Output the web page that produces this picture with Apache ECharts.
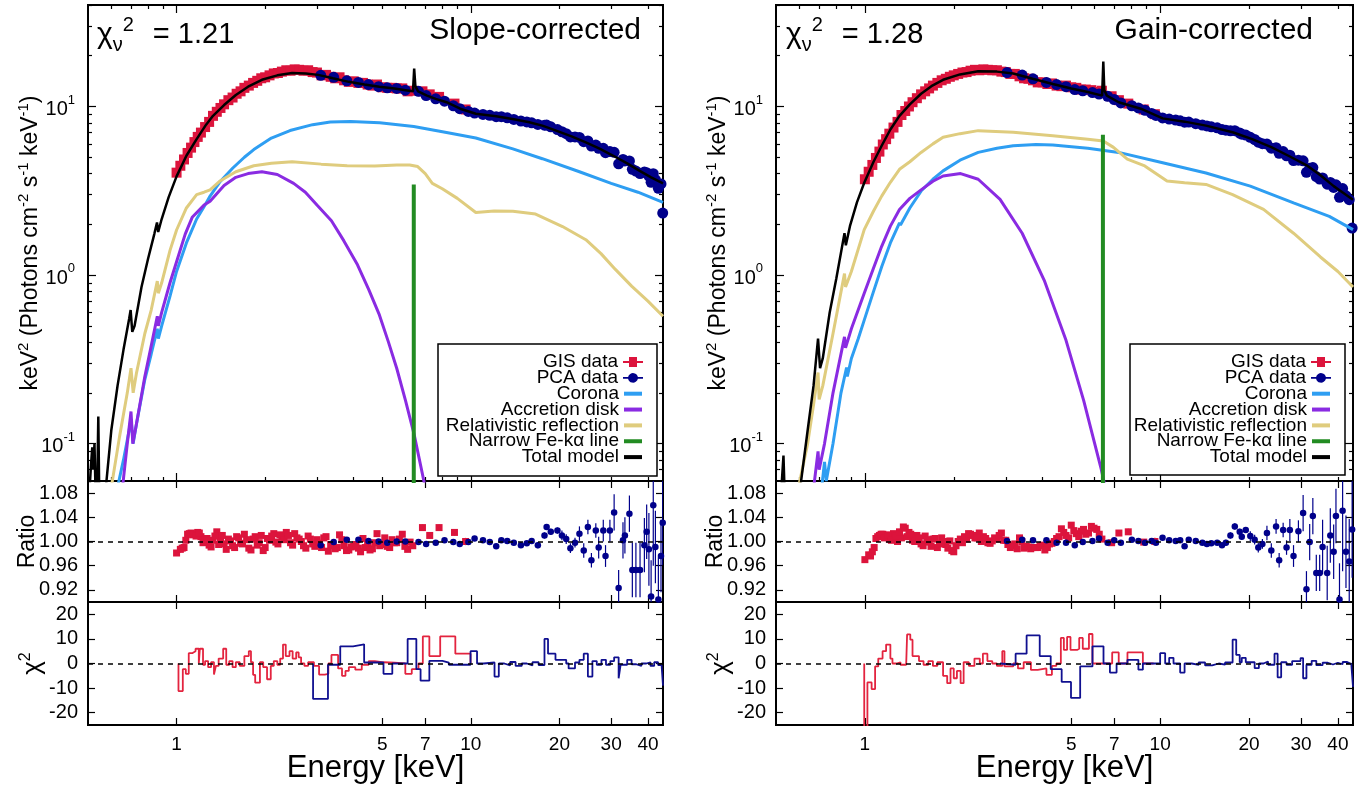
<!DOCTYPE html>
<html><head><meta charset="utf-8">
<script src="https://cdn.jsdelivr.net/npm/echarts@6/dist/echarts.min.js"></script>
<style>html,body{margin:0;padding:0;background:#fff}#c{width:1364px;height:788px}</style>
</head><body><div id="c"></div>
<script>
// ---------------- tick / label values ----------------
const xMajorMain = [1, 10];
const xMinorMain = [0.6, 0.7, 0.8, 0.9, 2, 3, 4, 5, 6, 7, 8, 9, 20, 30, 40];
const xTicksRes = [1, 5, 7, 10, 20, 30, 40];
const xLabels = [1, 5, 7, 10, 20, 30, 40];
const yMajorMain = [0.1, 1, 10];
const yMinorMain = [0.07, 0.08, 0.09, 0.2, 0.3, 0.4, 0.5, 0.6, 0.7, 0.8, 0.9, 2, 3, 4, 5, 6, 7, 8, 9, 20, 30, 40];
const ratioTicks = [0.92, 0.96, 1.00, 1.04, 1.08];
const chiTicks = [-20, -10, 0, 10, 20];
const legendNames = ['GIS data', 'PCA data', 'Corona', 'Accretion disk', 'Relativistic reflection', 'Narrow Fe-kα line', 'Total model'];

// ---------------- model curves: left (slope-corrected) ----------------
const totalL = [[0.505,0.05],[0.512,0.075],[0.517,0.095],[0.521,0.07],[0.526,0.1],[0.53,0.055],[0.537,0.05],[0.542,0.145],[0.546,0.05],[0.55,0.04],
 [0.575,0.055],[0.60,0.12],[0.63,0.22],[0.66,0.36],[0.69,0.55],[0.698,0.62],[0.707,0.46],[0.72,0.5],[0.76,0.85],[0.80,1.25],[0.84,1.75],[0.858,2.05],[0.866,1.8],[0.89,2.15],[0.94,2.9],
 [1.0,3.85],[1.08,5.1],[1.17,6.4],[1.26,7.8],[1.33,8.8],[1.345,8.75],[1.45,10.2],[1.59,11.7],[1.75,13.1],[1.95,14.4],[2.2,15.3],[2.47,15.8],[2.75,15.7],[3.03,15.4],[3.4,14.7],
 [3.85,14.0],[4.35,13.5],[4.89,13.1],[5.5,12.8],[6.0,12.5],[6.36,12.3],[6.42,16.8],[6.48,13.2],[6.62,12.3],[7.1,11.6],[7.6,11.1],[8.27,10.6],[9.2,9.7],[10.4,9.05],[12.2,8.76],
 [14,8.4],[15.8,8.07],[17.5,7.7],[19.5,7.19],[22,6.65],[24.6,6.13],[27.5,5.6],[30.5,5.1],[34,4.6],[37.5,4.15],[41,3.8],[45,3.5]];
const coronaL = [[0.63,0.055],[0.66,0.08],[0.69,0.12],[0.70,0.14],[0.712,0.1],[0.73,0.13],[0.78,0.24],[0.82,0.34],[0.86,0.48],[0.867,0.42],[0.89,0.5],[0.95,0.75],[1.0,1.05],
 [1.08,1.55],[1.17,2.15],[1.25,2.6],[1.30,2.94],[1.40,3.55],[1.55,4.3],[1.70,5.0],[1.83,5.55],[1.85,5.6],[2.1,6.5],[2.43,7.2],[2.9,7.8],[3.33,8.1],[3.9,8.15],[4.9,8.0],
 [6.4,7.6],[8.27,7.0],[10.4,6.5],[13.9,5.6],[17.5,4.9],[23.4,4.1],[30,3.5],[37,3.1],[45,2.7]];
const diskL = [[0.655,0.055],[0.68,0.1],[0.70,0.155],[0.71,0.1],[0.73,0.13],[0.78,0.25],[0.82,0.38],[0.86,0.57],[0.867,0.5],[0.89,0.6],[0.95,0.9],[1.0,1.2],[1.07,1.75],[1.13,2.2],
 [1.24,2.6],[1.30,2.74],[1.31,2.8],[1.45,3.4],[1.59,3.8],[1.75,4.0],[1.95,4.1],[2.2,3.95],[2.5,3.5],[2.74,3.1],[3.0,2.6],[3.36,2.1],[3.7,1.6],[4.12,1.15],[4.5,0.82],[4.89,0.58],
 [5.25,0.4],[5.6,0.28],[6.0,0.18],[6.42,0.113],[7.0,0.055]];
const reflL = [[0.60,0.055],[0.64,0.11],[0.68,0.2],[0.70,0.28],[0.712,0.2],[0.73,0.26],[0.78,0.45],[0.82,0.62],[0.86,0.92],[0.867,0.78],[0.89,0.9],[0.95,1.4],[1.0,1.85],[1.08,2.5],
 [1.17,3.0],[1.24,3.1],[1.30,3.2],[1.40,3.6],[1.59,4.1],[1.83,4.45],[1.85,4.4],[2.1,4.6],[2.47,4.7],[3.1,4.55],[3.8,4.45],[4.72,4.44],[5.6,4.5],[6.2,4.5],[6.6,4.4],[7.0,4.0],
 [7.4,3.5],[8.0,3.25],[9.0,2.85],[10.4,2.35],[12.0,2.4],[13.9,2.39],[16.6,2.3],[20.5,1.94],[24.6,1.62],[27.7,1.34],[31,1.08],[35.2,0.86],[40,0.7],[45,0.57]];
const feL = [[6.4,0.01],[6.4,3.45]];

// ---------------- model curves: right (gain-corrected) ----------------
const totalR = [[0.52,0.05],[0.53,0.085],[0.535,0.05],[0.55,0.04],[0.60,0.05],[0.64,0.12],[0.67,0.22],[0.694,0.42],[0.705,0.28],[0.72,0.32],[0.76,0.6],[0.80,0.95],[0.853,1.77],
 [0.862,1.5],[0.89,1.95],[0.94,2.7],[0.995,3.53],[1.07,4.7],[1.14,5.85],[1.22,7.3],[1.31,8.8],[1.32,8.7],[1.42,10.3],[1.55,11.9],[1.68,13.2],[1.84,14.4],[2.1,15.5],[2.42,16.2],
 [2.8,16.1],[3.18,15.7],[3.7,14.6],[4.33,13.6],[5.0,12.8],[5.69,12.2],[6.36,11.6],[6.42,18.5],[6.47,12.5],[6.6,11.6],[7.24,10.6],[8.6,9.7],[10.2,8.5],[12.1,8.13],[14.3,7.7],
 [17.6,7.03],[20.5,6.4],[23.9,5.72],[27.5,5.05],[31.6,4.44],[35,3.9],[38.7,3.37],[42,3.05],[45,2.8]];
const coronaR = [[0.71,0.05],[0.73,0.078],[0.74,0.06],[0.78,0.1],[0.83,0.2],[0.867,0.283],[0.872,0.25],[0.90,0.32],[0.95,0.42],[0.995,0.54],[1.07,0.8],[1.14,1.12],[1.22,1.55],
 [1.31,2.04],[1.32,1.98],[1.42,2.5],[1.55,3.15],[1.7,3.7],[1.84,4.15],[2.1,4.8],[2.42,5.34],[2.8,5.65],[3.18,5.85],[3.8,5.95],[4.33,5.9],[5.69,5.66],[7.24,5.34],[10.2,4.64],
 [14.3,4.03],[20.2,3.37],[28.3,2.68],[37.4,2.23],[45,1.86]];
const diskR = [[0.671,0.055],[0.694,0.09],[0.70,0.07],[0.73,0.1],[0.78,0.2],[0.853,0.43],[0.86,0.37],[0.90,0.48],[0.995,0.78],[1.07,1.1],[1.14,1.48],[1.22,1.95],[1.31,2.45],
 [1.32,2.4],[1.42,2.85],[1.55,3.2],[1.7,3.6],[1.84,3.87],[2.11,4.0],[2.42,3.7],[2.87,2.81],[3.41,1.77],[4.05,0.93],[4.8,0.41],[5.51,0.18],[6.31,0.071],[6.6,0.05]];
const reflR = [[0.596,0.055],[0.64,0.1],[0.67,0.17],[0.694,0.264],[0.70,0.183],[0.72,0.22],[0.78,0.45],[0.853,1.02],[0.86,0.85],[0.90,1.05],[0.995,1.86],[1.07,2.4],[1.14,2.94],
 [1.22,3.55],[1.31,4.24],[1.32,4.15],[1.42,4.7],[1.55,5.34],[1.7,6.0],[1.84,6.57],[1.86,6.4],[2.1,6.9],[2.42,7.19],[3.18,7.03],[4.33,6.7],[5.69,6.4],[6.42,6.25],[6.95,5.72],
 [7.74,4.87],[8.87,4.44],[10.55,3.61],[12.1,3.53],[14.3,3.45],[17.6,3.0],[22.4,2.45],[28.3,1.77],[34.9,1.28],[40,1.05],[45,0.85]];
const feR = [[6.4,0.01],[6.4,6.8]];

// ---------------- GIS data (energies shared) ----------------
const gisE = [1.00,1.03,1.06,1.09,1.12,1.15,1.18,1.21,1.25,1.29, 1.33,1.37,1.41,1.45,1.50,1.55,1.60,1.65,1.70,1.76,
 1.82,1.88,1.94,2.00,2.07,2.14,2.21,2.28,2.36,2.44, 2.52,2.61,2.70,2.80,2.90,3.00,3.11,3.22,3.34,3.46,
 3.58,3.71,3.85,4.00,4.15,4.30,4.46,4.63,4.80,5.00, 5.20,5.40,5.60,5.85,6.10,6.35,6.85,7.25,7.80,8.80, 9.60];
const gisErr = [0.005,0.005,0.005,0.004,0.004,0.004,0.004,0.004,0.004,0.004, 0.004,0.004,0.004,0.004,0.004,0.004,0.004,0.004,0.004,0.004,
 0.004,0.004,0.004,0.004,0.004,0.004,0.004,0.004,0.004,0.004, 0.004,0.004,0.004,0.004,0.004,0.004,0.004,0.004,0.004,0.004,
 0.004,0.004,0.004,0.004,0.004,0.004,0.004,0.004,0.004,0.004, 0.004,0.004,0.004,0.004,0.004,0.004,0.005,0.005,0.005,0.005, 0.006];
const gisMainL = [4.05,4.45,4.85,5.3,5.7,6.15,6.6,7.0,7.55,8.1, 8.8,9.3,9.8,10.3,10.9,11.3,11.9,12.3,12.9,13.3,
 13.8,14.2,14.7,14.9,15.3,15.7,15.8,16.1,16.4,16.3, 16.6,16.5,16.3,16.4,16.0,15.9,15.3,15.4,15.0,14.7,
 14.9,14.3,14.0,14.1,13.8,13.8,13.5,13.3,13.5,13.0, 12.9,12.9,12.8,12.8,12.3,12.4,12.3,11.8,11.4,10.4, 9.6];
const gisRatioL = [0.981,0.987,0.990,1.012,1.014,1.013,1.015,1.008,1.003,0.994, 1.002,1.016,1.006,0.996,1.004,0.993,1.008,0.997,1.012,0.989,
 1.004,0.994,1.010,0.990,1.002,1.013,0.996,1.007,1.015,0.998, 1.013,1.004,0.993,1.009,0.996,1.003,0.990,1.008,0.995,0.988,
 1.011,0.993,0.986,0.992,0.989,1.005,0.994,0.988,1.013,0.995, 0.992,1.003,0.998,1.012,0.987,0.993,1.023,1.010,1.023,1.015, 1.000];
const gisMainR = [3.7,4.1,4.5,4.95,5.4,5.95,6.4,6.9,7.5,8.1, 8.9,9.4,10.0,10.6,11.2,11.8,12.3,12.8,13.3,13.8,
 14.3,14.6,15.0,15.3,15.6,15.9,16.0,16.3,16.5,16.4, 16.6,16.5,16.4,16.4,16.1,16.0,15.6,15.6,15.1,14.7,
 14.6,14.3,13.9,13.9,13.6,13.7,13.3,13.2,13.3,13.0, 12.9,12.6,12.6,12.5,12.2,12.4,11.5,10.9,10.4,9.6, 9.0];
const gisRatioR = [0.970,0.978,0.983,1.005,1.010,1.012,1.010,1.004,1.013,1.000, 1.006,1.022,1.015,1.002,1.010,0.996,1.009,0.999,1.004,0.990,
 1.006,0.995,1.001,0.983,1.000,0.998,1.004,1.012,1.006,1.014, 1.008,0.998,1.001,1.004,1.014,1.002,0.990,0.996,1.006,0.989,
 0.991,0.990,0.990,0.994,0.990,0.997,1.005,1.021,1.010,1.027, 1.013,1.017,1.012,1.025,1.020,1.004,0.998,1.014,1.016,0.999, 1.000];

// extra GIS channels seen only in the ratio panels
const gisE2 = [1.045,1.075,1.105,1.135,1.165,1.195,1.23,1.27,1.31,1.35, 1.39,1.43,1.475,1.525,1.575,1.625,1.675,1.73,1.79,1.85,
 1.91,1.97,2.035,2.105,2.175,2.245,2.32,2.40,2.48,2.565, 2.655,2.75,2.85,2.95,3.05,3.165,3.28,3.40,3.52,3.645,
 3.78,3.92,4.07,4.22,4.38,4.545,4.715,4.90,5.10,5.30, 5.50,5.72,5.97,6.22];
const gisErr2 = [0.005,0.005,0.004,0.004,0.004,0.004,0.004,0.004,0.004,0.004, 0.004,0.004,0.004,0.004,0.004,0.004,0.004,0.004,0.004,0.004,
 0.004,0.004,0.004,0.004,0.004,0.004,0.004,0.004,0.004,0.004, 0.004,0.004,0.004,0.004,0.004,0.004,0.004,0.004,0.004,0.004,
 0.004,0.004,0.004,0.004,0.004,0.004,0.004,0.004,0.004,0.004, 0.004,0.005,0.005,0.005];
const gisRatioL2 = [0.989,1.002,1.013,1.011,1.009,1.014,0.998,1.005,0.991,1.009, 0.995,1.010,0.987,1.001,0.990,1.006,0.996,1.003,0.986,1.008,
 0.998,0.985,1.005,1.009,0.999,1.011,1.003,1.010,0.994,1.006, 1.000,0.989,1.004,0.992,0.997,1.006,0.984,0.993,0.990,1.003,
 0.985,0.991,0.995,0.983,0.990,0.986,0.998,0.993,1.006,0.990, 0.998,1.004,0.992,0.999];
const gisRatioR2 = [0.976,0.990,1.008,1.012,1.006,1.011,1.002,1.009,1.016,1.024, 1.008,1.012,1.000,1.006,0.993,1.003,0.992,1.005,0.996,1.000,
 0.989,0.985,0.993,1.004,1.008,1.013,1.010,1.006,1.000,1.005, 0.997,1.006,1.010,1.002,0.995,0.993,0.988,1.000,0.992,0.988,
 0.990,0.993,0.986,0.996,1.000,1.008,1.015,1.006,1.018,1.008, 1.020,1.014,1.022,1.012];

// ---------------- PCA data: left ----------------
const pcaEL = [3.09,3.42,3.79,4.15,4.49,4.86,5.20,5.60,5.99,6.64, 7.05,7.60,8.14,8.72,9.17,9.81,10.3,11.0,11.6,12.2,
 12.7,13.3,14.0,14.8,15.5,16.1,16.9,17.8,18.1,18.7, 19.7,20.4,21.1,21.8,22.6,23.4,24.2,25.0,25.7,26.6,
 27.2,28.2,28.7,29.7,30.7,31.8,32.9,33.4,34.6,35.4, 36.4,37.6,38.9,39.6,40.3,41.0,41.7,42.4,43.4,44.3, 44.9];
const pcaMainL = [15.3,14.9,14.2,13.9,13.5,13.1,12.9,12.8,12.5,12.3, 11.6,11.1,10.75,10.1,9.7,9.35,9.14,8.97,8.86,8.7,
 8.7,8.57,8.38,8.2,8.1,8.0,7.82,7.75,7.76,7.58, 7.3,7.08,6.9,6.6,6.6,6.55,6.18,6.25,5.82,5.9,
 5.65,5.65,5.32,5.4,5.35,4.57,4.85,4.75,4.75,4.24, 4.14,4.0,4.08,4.05,3.86,3.55,3.99,3.68,3.27,3.47, 2.33];
const pcaRatioL = [0.994,0.999,1.003,1.003,1.001,1.000,0.998,1.000,1.000,0.999, 0.996,0.998,1.002,0.999,0.996,0.999,1.005,1.002,0.999,0.992,
 1.002,1.001,0.998,0.994,0.997,1.001,0.994,1.010,1.024,1.016, 1.018,1.010,1.004,0.989,0.998,1.013,0.985,1.024,0.969,1.018,
 0.990,1.018,0.976,1.018,1.048,0.923,1.002,1.010,1.046,0.953, 0.953,0.953,0.994,1.016,0.987,0.909,1.060,0.991,0.904,0.976, 1.031];
const pcaErrL = [0.002,0.002,0.002,0.002,0.002,0.002,0.002,0.002,0.002,0.002, 0.002,0.002,0.002,0.002,0.002,0.002,0.003,0.003,0.003,0.003,
 0.003,0.003,0.003,0.003,0.003,0.003,0.005,0.005,0.005,0.005, 0.005,0.008,0.008,0.008,0.008,0.012,0.012,0.012,0.012,0.012,
 0.018,0.018,0.018,0.018,0.030,0.030,0.030,0.030,0.030,0.045, 0.045,0.045,0.045,0.045,0.060,0.060,0.100,0.060,0.070,0.060, 0.070];

// ---------------- PCA data: right ----------------
const pcaER = [3.03,3.41,3.71,4.12,4.46,4.80,5.14,5.47,5.90,6.21, 6.64,6.99,7.36,8.02,8.44,8.89,9.36,9.68,10.19,10.73,
 11.29,11.69,12.1,12.5,13.2,13.9,14.4,14.9,15.6,16.2, 16.7,17.3,17.9,18.6,18.9,19.5,20.2,20.9,21.5,22.2,
 23.0,23.8,24.7,25.3,26.1,26.8,27.5,28.3,29.4,30.5, 31.3,32.1,32.9,33.8,34.7,35.5,36.8,37.7,38.7,39.4, 40.5,41.5,42.6,43.7,44.7];
const pcaMainR = [15.9,15.35,14.6,13.9,13.5,13.1,12.6,12.4,12.1,11.85, 11.5,11.0,10.5,10.1,9.8,9.5,9.1,8.85,8.55,8.42,
 8.3,8.22,8.07,8.08,7.91,7.76,7.67,7.58,7.47,7.3, 7.23,7.17,7.18,6.96,6.85,6.77,6.56,6.37,6.14,6.02,
 5.98,5.66,5.69,5.28,5.4,5.1,5.14,4.78,4.8,4.76, 4.07,4.3,4.34,3.84,3.71,3.77,3.46,3.54,3.31,3.43, 2.89,3.26,2.95,2.8,1.9];
const pcaRatioR = [1.001,1.003,1.002,1.002,0.998,0.998,0.994,0.999,1.001,1.005, 0.998,1.002,0.998,1.003,1.001,0.998,1.001,0.998,1.006,1.002,
 1.001,1.002,0.992,1.003,1.001,0.998,0.996,0.997,0.998,0.994, 0.998,1.010,1.025,1.016,1.008,1.019,1.009,1.003,0.990,0.996,
 1.014,0.985,1.025,0.969,1.019,0.990,1.019,0.976,1.017,1.047, 0.921,0.999,1.042,0.948,0.948,0.991,0.948,1.010,0.983,1.042, 0.904,1.051,0.983,0.967,1.020];
const pcaErrR = [0.002,0.002,0.002,0.002,0.002,0.002,0.002,0.002,0.002,0.002, 0.002,0.002,0.002,0.002,0.002,0.002,0.002,0.002,0.003,0.003,
 0.003,0.003,0.003,0.003,0.003,0.003,0.003,0.003,0.003,0.003, 0.005,0.005,0.005,0.005,0.005,0.005,0.008,0.008,0.008,0.008,
 0.012,0.012,0.012,0.012,0.012,0.012,0.018,0.018,0.018,0.030, 0.030,0.030,0.030,0.030,0.030,0.045,0.045,0.045,0.045,0.045, 0.060,0.100,0.060,0.070,0.080];

// ---------------- chi residual steps [E, chi] ----------------
const chiGisL = [[1.015,0],[1.015,-11.2],[1.05,-2.3],[1.075,-4.2],[1.10,4.2],[1.13,5],[1.16,6],[1.19,0],[1.20,6],[1.23,-0.5],[1.25,1],[1.28,-1.5],[1.31,0.5],[1.34,-4.5],[1.36,-1],
 [1.39,2],[1.44,6],[1.475,-0.5],[1.51,1],[1.55,-1.5],[1.59,0.5],[1.64,-1],[1.70,3],[1.76,5],[1.79,0.5],[1.82,-4.6],[1.85,-7.8],[1.92,0.5],[1.97,-1.5],[2.03,-6.4],[2.09,-1],
 [2.14,1],[2.20,-0.5],[2.25,2],[2.30,7.7],[2.35,3],[2.42,5],[2.48,2],[2.55,4.5],[2.60,2.5],[2.65,0],[2.72,-1],[2.80,0.5],[2.93,-1],[3.05,-4.5],[3.19,-4.2],[3.28,0],[3.36,3.5],
 [3.54,-2],[3.65,-5],[3.75,-3],[3.85,-1.5],[4.05,-2.5],[4.26,-0.5],[4.5,1],[4.72,0.5],[5.05,0.3],[5.51,0],[5.99,-4.2],[6.30,-2.3],[6.64,0],[6.87,11],[7.23,3],[7.87,11],
 [8.86,4],[9.98,0]];
const chiPcaL = [[2.91,0],[2.91,-14.4],[3.27,-0.5],[3.60,7],[3.98,7.8],[4.34,0.4],[5.05,-4.2],[5.41,0],[6.10,10],[6.53,-2.3],[6.75,-7],[7.23,1.1],[8.01,0.4],[8.42,-0.5],
 [9.98,5],[10.5,0],[11.06,0.4],[12.04,-5.3],[12.45,0],[13.0,-0.8],[13.6,0.6],[14.2,-1],[14.9,0],[15.5,-0.8],[16.2,0.5],[17.0,-0.6],[17.8,10],[18.3,4],[19.4,1.5],[21.1,0],
 [21.5,-2],[22.6,0.4],[23.4,1.5],[24.2,4],[25.0,-5.3],[25.9,1],[26.8,-0.5],[27.8,1.5],[28.8,-0.5],[29.8,1],[30.7,2.5],[31.8,-6],[32.3,-0.5],[34.0,1.5],[35.2,-0.3],[36.5,-1],
 [38.0,0],[39.5,0.5],[40.8,-1],[42.0,0.5],[43.3,-0.6],[44.5,0.2],[45,-9]];
const chiGisR = [[0.995,0],[0.995,-27],[1.02,-7.7],[1.054,-10.4],[1.083,-1.2],[1.11,2],[1.148,5],[1.18,7.7],[1.22,2],[1.24,0],[1.28,0.5],[1.32,-0.5],[1.38,0],[1.39,11.8],[1.425,9.7],
 [1.45,3],[1.525,1],[1.58,-0.5],[1.64,1],[1.70,-1],[1.76,0.5],[1.84,-5],[1.9,-8],[1.95,-2],[2.0,-6],[2.05,-3],[2.11,-8],[2.16,0.5],[2.25,-1],[2.35,2],[2.45,0],[2.51,4],[2.6,1],
 [2.7,0],[2.8,-1],[2.92,5],[2.97,-1.2],[3.18,0],[3.3,-2],[3.45,0.5],[3.65,-2.6],[3.85,-2],[4.12,-4.6],[4.3,-1],[4.45,0],[4.61,10.4],[4.72,5.5],[4.84,10.8],[4.97,5.5],[5.23,6],
 [5.32,10.4],[5.47,6],[5.74,12],[5.90,0],[6.2,0],[6.88,4.5],[7.24,0],[7.75,4.5],[8.74,0],[9.5,0]];
const chiPcaR = [[2.87,0],[2.87,-0.5],[3.24,4],[3.53,11.4],[3.91,3],[4.26,-2.3],[4.64,-7.5],[4.99,-14],[5.36,-1.2],[5.90,7],[6.43,0],[6.76,-3.7],[7.12,0],[7.75,1.5],[8.44,-2.5],
 [8.74,0],[10.0,4.2],[10.4,0],[10.73,2.3],[11.1,0],[11.69,-3.7],[12.1,0],[12.8,-0.6],[13.5,0.4],[14.2,-0.8],[15.0,0],[15.8,-0.5],[16.6,0.4],[17.6,9.7],[18.1,3.5],[18.6,0.5],
 [18.9,2.3],[19.5,0.5],[20.9,-1.9],[21.6,0],[22.4,0.8],[23.2,-0.5],[24.4,4],[25.0,-5.6],[25.7,0.5],[26.8,-0.5],[28,1],[29.9,2.2],[30.5,-6],[31.3,-0.5],[32.6,1.1],[33.8,-0.7],
 [35.5,0.3],[37,-0.4],[38.5,0.3],[40,-0.3],[41.5,0.6],[43,-0.2],[44.4,0.2],[45,-9.5]];

// ---------------- layout & style ----------------
const X_MIN = 0.5, X_MAX = 45, Y_MIN = 0.06, Y_MAX = 40;
const FONT = "'Liberation Sans', Arial, Helvetica, sans-serif";
const RED = '#dc143c', NAVY = '#00008b', BLUE = '#2e9ef2', PURPLE = '#8a2be2', KHAKI = '#dfcc7e', GREEN = '#228b22';
const ROWS = [{top: 5, height: 476}, {top: 481, height: 121}, {top: 602, height: 123}];
const PANELS = [
  {left: 88, width: 575, total: totalL, corona: coronaL, disk: diskL, refl: reflL, fe: feL, gisMain: gisMainL, gisRatio: gisRatioL, gisRatio2: gisRatioL2,
   pcaE: pcaEL, pcaMain: pcaMainL, pcaRatio: pcaRatioL, pcaErr: pcaErrL, chiGis: chiGisL, chiPca: chiPcaL,
   chiText: '1.21', label: 'Slope-corrected', labelRight: 723, chiLeft: 97, legRight: 721, box: [438, 344, 219, 132]},
  {left: 776, width: 577, total: totalR, corona: coronaR, disk: diskR, refl: reflR, fe: feR, gisMain: gisMainR, gisRatio: gisRatioR, gisRatio2: gisRatioR2,
   pcaE: pcaER, pcaMain: pcaMainR, pcaRatio: pcaRatioR, pcaErr: pcaErrR, chiGis: chiGisR, chiPca: chiPcaR,
   chiText: '1.28', label: 'Gain-corrected', labelRight: 51, chiLeft: 786, legRight: 33, box: [1130, 344, 215, 131]}
];

const option = {animation: false, backgroundColor: '#fff', textStyle: {fontFamily: FONT},
  grid: [], xAxis: [], yAxis: [], series: [], legend: [], title: [], graphic: []};
const zip = (a, b) => a.map((v, i) => [v, b[i]]);

function addX(g, pos, ticks, len, label, name) {
  const ax = {type: 'log', logBase: 10, gridIndex: g, position: pos, min: X_MIN, max: X_MAX,
    axisLine: {show: false, onZero: false},
    axisTick: {show: true, inside: true, length: len, customValues: ticks, lineStyle: {color: '#000', width: 1.2}},
    axisLabel: {show: false}, splitLine: {show: false}, minorTick: {show: false}};
  if (label) ax.axisLabel = label;
  if (name) Object.assign(ax, name);
  option.xAxis.push(ax); return option.xAxis.length - 1;
}
function addY(g, pos, type, min, max, ticks, len, label, name) {
  const ax = {type: type, gridIndex: g, position: pos, min: min, max: max,
    axisLine: {show: false, onZero: false},
    axisTick: {show: true, inside: true, length: len, customValues: ticks, lineStyle: {color: '#000', width: 1.2}},
    axisLabel: {show: false}, splitLine: {show: false}, minorTick: {show: false}};
  if (type === 'log') ax.logBase = 10;
  if (label) ax.axisLabel = label;
  if (name) Object.assign(ax, name);
  option.yAxis.push(ax); return option.yAxis.length - 1;
}
function errBars(name, xi, yi, E, V, ERR, color, z) {
  return {type: 'custom', name: name, xAxisIndex: xi, yAxisIndex: yi, clip: true, z: z, silent: true,
    data: E.map((e, i) => [e, V[i], ERR[i]]),
    renderItem: function (params, api) {
      const x = api.value(0), y = api.value(1), e = api.value(2);
      const a = api.coord([x, y - e]), b = api.coord([x, y + e]);
      return {type: 'line', shape: {x1: a[0], y1: a[1], x2: b[0], y2: b[1]}, style: {stroke: color, lineWidth: 1.2}};
    }};
}
const dashed = {symbol: 'none', silent: true, label: {show: false}, lineStyle: {type: [5, 5], color: '#000', width: 1.5}};

PANELS.forEach((P, p) => {
  const g0 = p * 3;
  ROWS.forEach(r => option.grid.push({left: P.left, top: r.top, width: P.width, height: r.height, show: true,
    borderColor: '#000', borderWidth: 2, backgroundColor: 'transparent'}));

  // main panel axes
  const xm = addX(g0, 'bottom', xMajorMain, 8);
  addX(g0, 'bottom', xMinorMain, 4); addX(g0, 'top', xMajorMain, 8); addX(g0, 'top', xMinorMain, 4);
  const ym = addY(g0, 'left', 'log', Y_MIN, Y_MAX, yMajorMain, 8,
    {show: true, customValues: yMajorMain, margin: 13, color: '#000',
     formatter: v => '{b|10}{s|' + Math.round(Math.log10(v)) + '}',
     rich: {b: {fontSize: 20, lineHeight: 26, verticalAlign: 'bottom', fontFamily: FONT, color: '#000'},
            s: {fontSize: 13, lineHeight: 14, verticalAlign: 'top', fontFamily: FONT, color: '#000'}}},
    {name: 'keV{s|2} (Photons cm{s|-2} s{s|-1} keV{s|-1})', nameLocation: 'middle', nameRotate: 90, nameGap: 42, nameMoveOverlap: false,
     nameTextStyle: {fontSize: 23, color: '#000', fontFamily: FONT, lineHeight: 30,
       rich: {s: {fontSize: 15, lineHeight: 16, verticalAlign: 'top', color: '#000', fontFamily: FONT}}}});
  addY(g0, 'left', 'log', Y_MIN, Y_MAX, yMinorMain, 4);
  addY(g0, 'right', 'log', Y_MIN, Y_MAX, yMajorMain, 8);
  addY(g0, 'right', 'log', Y_MIN, Y_MAX, yMinorMain, 4);

  // ratio axes
  const xr = addX(g0 + 1, 'bottom', xTicksRes, 7); addX(g0 + 1, 'top', xTicksRes, 7);
  const yr = addY(g0 + 1, 'left', 'value', 0.9, 1.1, ratioTicks, 7,
    {show: true, customValues: ratioTicks, margin: 10, fontSize: 20, color: '#000', fontFamily: FONT, formatter: v => v.toFixed(2)},
    {name: 'Ratio', nameLocation: 'middle', nameRotate: 90, nameGap: 49, nameMoveOverlap: false,
     nameTextStyle: {fontSize: 23, color: '#000', fontFamily: FONT}});
  addY(g0 + 1, 'right', 'value', 0.9, 1.1, ratioTicks, 7);

  // chi axes
  const xc = addX(g0 + 2, 'bottom', xTicksRes, 7,
    {show: true, customValues: xLabels, margin: 10, fontSize: 19, color: '#000', fontFamily: FONT, formatter: v => String(Math.round(v))},
    {name: 'Energy [keV]', nameLocation: 'middle', nameGap: 28, nameMoveOverlap: false,
     nameTextStyle: {fontSize: 31, color: '#000', fontFamily: FONT}});
  addX(g0 + 2, 'top', xTicksRes, 7);
  const yc = addY(g0 + 2, 'left', 'value', -25, 25, chiTicks, 7,
    {show: true, customValues: chiTicks, margin: 10, fontSize: 20, color: '#000', fontFamily: FONT, formatter: v => String(Math.round(v))},
    {name: '{a|χ}{s|2}', nameLocation: 'middle', nameRotate: 90, nameGap: 40, nameMoveOverlap: false,
     nameTextStyle: {color: '#000', fontFamily: FONT,
       rich: {a: {fontSize: 26, lineHeight: 30, fontFamily: FONT, color: '#000'}, s: {fontSize: 16, lineHeight: 14, verticalAlign: 'top', fontFamily: FONT, color: '#000'}}}});
  addY(g0 + 2, 'right', 'value', -25, 25, chiTicks, 7);

  // main series
  option.series.push(
    {type: 'scatter', name: 'GIS data', xAxisIndex: xm, yAxisIndex: ym, symbol: 'rect', symbolSize: 10, z: 2,
     itemStyle: {color: RED, opacity: 1}, data: zip(gisE, P.gisMain)},
    {type: 'scatter', name: 'PCA data', xAxisIndex: xm, yAxisIndex: ym, symbol: 'circle', symbolSize: 11, z: 2,
     itemStyle: {color: NAVY, opacity: 1}, data: zip(P.pcaE, P.pcaMain)},
    {type: 'line', name: 'Corona', xAxisIndex: xm, yAxisIndex: ym, symbol: 'none', z: 4, lineStyle: {width: 3, color: BLUE}, itemStyle: {color: BLUE}, data: P.corona},
    {type: 'line', name: 'Accretion disk', xAxisIndex: xm, yAxisIndex: ym, symbol: 'none', z: 4, lineStyle: {width: 3, color: PURPLE}, itemStyle: {color: PURPLE}, data: P.disk},
    {type: 'line', name: 'Relativistic reflection', xAxisIndex: xm, yAxisIndex: ym, symbol: 'none', z: 4, lineStyle: {width: 3, color: KHAKI}, itemStyle: {color: KHAKI}, data: P.refl},
    {type: 'line', name: 'Narrow Fe-kα line', xAxisIndex: xm, yAxisIndex: ym, symbol: 'none', z: 4, lineStyle: {width: 4, color: GREEN}, itemStyle: {color: GREEN}, data: P.fe},
    {type: 'line', name: 'Total model', xAxisIndex: xm, yAxisIndex: ym, symbol: 'none', z: 5, lineStyle: {width: 2.5, color: '#000'}, itemStyle: {color: '#000'}, data: P.total}
  );
  // ratio series
  option.series.push(
    errBars('GIS ratio err', xr, yr, gisE, P.gisRatio, gisErr, RED, 2),
    errBars('GIS ratio err 2', xr, yr, gisE2, P.gisRatio2, gisErr2, RED, 2),
    {type: 'scatter', name: 'GIS ratio', xAxisIndex: xr, yAxisIndex: yr, symbol: 'rect', symbolSize: 7, z: 3,
     itemStyle: {color: RED, opacity: 1}, data: zip(gisE, P.gisRatio), markLine: Object.assign({data: [{yAxis: 1}]}, dashed)},
    {type: 'scatter', name: 'GIS ratio 2', xAxisIndex: xr, yAxisIndex: yr, symbol: 'rect', symbolSize: 7, z: 3,
     itemStyle: {color: RED, opacity: 1}, data: zip(gisE2, P.gisRatio2)},
    errBars('PCA ratio err', xr, yr, P.pcaE, P.pcaRatio, P.pcaErr, NAVY, 2),
    {type: 'scatter', name: 'PCA ratio', xAxisIndex: xr, yAxisIndex: yr, symbol: 'circle', symbolSize: 6.5, z: 3,
     itemStyle: {color: NAVY, opacity: 1}, data: zip(P.pcaE, P.pcaRatio)}
  );
  // chi series
  option.series.push(
    {type: 'line', name: 'GIS chi', step: 'end', xAxisIndex: xc, yAxisIndex: yc, symbol: 'none', z: 3,
     lineStyle: {width: 1.8, color: '#e3243f'}, data: P.chiGis, markLine: Object.assign({data: [{yAxis: 0}]}, dashed)},
    {type: 'line', name: 'PCA chi', step: 'end', xAxisIndex: xc, yAxisIndex: yc, symbol: 'none', z: 3,
     lineStyle: {width: 1.8, color: '#101090'}, data: P.chiPca}
  );

  // titles
  option.title.push(
    {left: P.chiLeft, top: 15, padding: 0,
     text: '{a|χ}{b|ν}{c|2}{d|= ' + P.chiText + '}',
     textStyle: {fontWeight: 'normal', rich: {
       a: {fontSize: 30, lineHeight: 40, fontFamily: FONT, color: '#000'},
       b: {fontSize: 20, lineHeight: 24, verticalAlign: 'bottom', fontFamily: FONT, color: '#000'},
       c: {fontSize: 20, lineHeight: 20, verticalAlign: 'top', fontFamily: FONT, color: '#000'},
       d: {fontSize: 29, lineHeight: 40, fontFamily: FONT, color: '#000', padding: [0, 0, 0, 19]}}}},
    {right: P.labelRight, top: 16, padding: 0, text: P.label,
     textStyle: {fontSize: 30, fontWeight: 'normal', color: '#000', fontFamily: FONT}}
  );

  // legend box + one legend per entry (text right-aligned, key on the right)
  option.graphic.push({type: 'rect', z: 3, shape: {x: P.box[0], y: P.box[1], width: P.box[2], height: P.box[3]},
    style: {fill: '#fff', stroke: '#000', lineWidth: 1.5}});
  legendNames.forEach((nm, i) => {
    let icon = 'rect', w = 18, h = 4;
    if (i === 0) { icon = 'path://M0,5H6V1H14V5H20V7H14V11H6V7H0Z'; w = 20; h = 11; }
    if (i === 1) { icon = 'path://M0,5.2H5.1A5,5,0,0,1,14.9,5.2H20V6.8H14.9A5,5,0,0,1,5.1,6.8H0Z'; w = 20; h = 11; }
    option.legend.push({data: [{name: nm, icon: icon}], right: P.legRight + (i < 2 ? 0 : 1), top: 352.5 + 15.85 * i,
      align: 'right', orient: 'horizontal', itemWidth: w, itemHeight: h, itemGap: 0, padding: 0, selectedMode: false, z: 5,
      itemStyle: {opacity: 1}, textStyle: {fontSize: 19, color: '#000', fontFamily: FONT}});
  });
});

const chart = echarts.init(document.getElementById('c'), null, {renderer: 'canvas'});
chart.setOption(option);
</script></body></html>
